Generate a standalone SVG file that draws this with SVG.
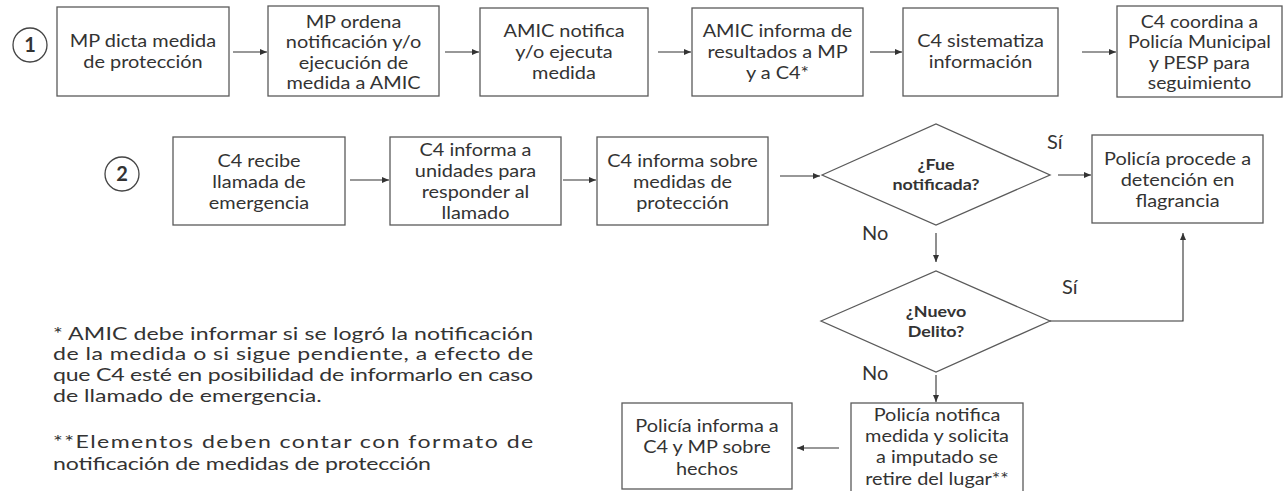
<svg xmlns="http://www.w3.org/2000/svg" width="1284" height="491" viewBox="0 0 1284 491">
<defs>
<marker id="ah" markerUnits="userSpaceOnUse" markerWidth="8" markerHeight="7" refX="7" refY="3" orient="auto">
<path d="M0,0 L7,3 L0,6 z" fill="#333"/>
</marker>
<style>
.box{fill:#fff;stroke:#5a5a5a;stroke-width:1.3}
.dia{fill:#fff;stroke:#5a5a5a;stroke-width:1.3}
.t{font-family:Lato,"Liberation Sans",sans-serif;font-size:17px;fill:#333;text-anchor:middle}
.d{font-family:Lato,"Liberation Sans",sans-serif;font-size:16px;font-weight:bold;fill:#333;text-anchor:middle}
.n{font-family:Lato,"Liberation Sans",sans-serif;font-size:20px;font-weight:bold;fill:#333;text-anchor:middle}
.lbl{font-family:Lato,"Liberation Sans",sans-serif;font-size:20px;fill:#333}
.fn{font-family:Lato,"Liberation Sans",sans-serif;font-size:16.5px;fill:#333}
.ca{fill:none;stroke:#333;stroke-width:1.1;marker-end:url(#ah)}
.circ{fill:#fff;stroke:#444;stroke-width:1.3}
</style>
</defs>
<rect width="1284" height="491" fill="#fff"/>

<g id="step1"><circle class="circ" cx="30" cy="45" r="17"/><text class="n" x="30" y="52">1</text></g>
<g id="step2"><circle class="circ" cx="122" cy="174" r="17"/><text class="n" x="122" y="181">2</text></g>

<g id="b1"><rect class="box" x="57" y="7" width="172" height="89"/>
<g transform="translate(143 0) scale(1.17 1)"><text class="t"><tspan x="0" y="47">MP dicta medida</tspan><tspan x="0" y="68">de protección</tspan></text></g></g>
<g id="b2"><rect class="box" x="268" y="6" width="171" height="90"/>
<g transform="translate(353.5 0) scale(1.17 1)"><text class="t"><tspan x="0" y="28">MP ordena</tspan><tspan x="0" y="48.5">notificación y/o</tspan><tspan x="0" y="69">ejecución de</tspan><tspan x="0" y="89.5">medida a AMIC</tspan></text></g></g>
<g id="b3"><rect class="box" x="480" y="8" width="168" height="88"/>
<g transform="translate(564 0) scale(1.17 1)"><text class="t"><tspan x="0" y="37">AMIC notifica</tspan><tspan x="0" y="58">y/o ejecuta</tspan><tspan x="0" y="79">medida</tspan></text></g></g>
<g id="b4"><rect class="box" x="692" y="8" width="171" height="88"/>
<g transform="translate(777.5 0) scale(1.17 1)"><text class="t"><tspan x="0" y="37">AMIC informa de</tspan><tspan x="0" y="58">resultados a MP</tspan><tspan x="0" y="79">y a C4*</tspan></text></g></g>
<g id="b5"><rect class="box" x="903" y="8" width="155" height="88"/>
<g transform="translate(980.5 0) scale(1.17 1)"><text class="t"><tspan x="0" y="47">C4 sistematiza</tspan><tspan x="0" y="68">información</tspan></text></g></g>
<g id="b6"><rect class="box" x="1117" y="6" width="165" height="91"/>
<g transform="translate(1199.5 0) scale(1.14 1)"><text class="t"><tspan x="0" y="28">C4 coordina a</tspan><tspan x="0" y="48.5">Policía Municipal</tspan><tspan x="0" y="69">y PESP para</tspan><tspan x="0" y="89.5">seguimiento</tspan></text></g></g>

<g id="b7"><rect class="box" x="173" y="137" width="172" height="88"/>
<g transform="translate(259 0) scale(1.17 1)"><text class="t"><tspan x="0" y="167">C4 recibe</tspan><tspan x="0" y="188">llamada de</tspan><tspan x="0" y="209">emergencia</tspan></text></g></g>
<g id="b8"><rect class="box" x="390" y="137" width="171" height="88"/>
<g transform="translate(475.5 0) scale(1.17 1)"><text class="t"><tspan x="0" y="156">C4 informa a</tspan><tspan x="0" y="177">unidades para</tspan><tspan x="0" y="198">responder al</tspan><tspan x="0" y="219">llamado</tspan></text></g></g>
<g id="b9"><rect class="box" x="597" y="137" width="171" height="88"/>
<g transform="translate(682.5 0) scale(1.17 1)"><text class="t"><tspan x="0" y="167">C4 informa sobre</tspan><tspan x="0" y="188">medidas de</tspan><tspan x="0" y="209">protección</tspan></text></g></g>
<g id="d1"><polygon class="dia" points="822,175 936,124 1050,175 936,225"/>
<g transform="translate(936 0) scale(1.12 1)"><text class="d"><tspan x="0" y="170">¿Fue</tspan><tspan x="0" y="190">notificada?</tspan></text></g></g>
<g id="b10"><rect class="box" x="1092" y="135" width="171" height="88"/>
<g transform="translate(1177.5 0) scale(1.17 1)"><text class="t"><tspan x="0" y="165">Policía procede a</tspan><tspan x="0" y="186">detención en</tspan><tspan x="0" y="207">flagrancia</tspan></text></g></g>
<g id="d2"><polygon class="dia" points="821,321 936,271 1050,321 936,372"/>
<g transform="translate(936 0) scale(1.12 1)"><text class="d"><tspan x="0" y="317">¿Nuevo</tspan><tspan x="0" y="337">Delito?</tspan></text></g></g>
<g id="b11"><rect class="box" x="851" y="403" width="172" height="92"/>
<g transform="translate(937 0) scale(1.17 1)"><text class="t"><tspan x="0" y="421">Policía notifica</tspan><tspan x="0" y="442">medida y solicita</tspan><tspan x="0" y="463">a imputado se</tspan><tspan x="0" y="485">retire del lugar**</tspan></text></g></g>
<g id="b12"><rect class="box" x="622" y="403" width="170" height="86"/>
<g transform="translate(707 0) scale(1.17 1)"><text class="t"><tspan x="0" y="432">Policía informa a</tspan><tspan x="0" y="453">C4 y MP sobre</tspan><tspan x="0" y="475">hechos</tspan></text></g></g>

<g id="connectors">
<line class="ca" x1="233" y1="52" x2="267" y2="52"/>
<line class="ca" x1="445" y1="52" x2="479" y2="52"/>
<line class="ca" x1="658" y1="52" x2="691" y2="52"/>
<line class="ca" x1="870" y1="52" x2="902" y2="52"/>
<line class="ca" x1="1082" y1="52" x2="1116" y2="52"/>
<line class="ca" x1="350" y1="180" x2="389" y2="180"/>
<line class="ca" x1="563" y1="180" x2="596" y2="180"/>
<line class="ca" x1="780" y1="176" x2="820" y2="176"/>
<line class="ca" x1="1058" y1="175" x2="1091" y2="175"/>
<line class="ca" x1="936" y1="233" x2="936" y2="262"/>
<polyline class="ca" points="1050,321 1183,321 1183,233"/>
<line class="ca" x1="936" y1="375" x2="936" y2="402"/>
<line class="ca" x1="839" y1="448" x2="797" y2="448"/>
<text class="lbl" x="1047" y="149">Sí</text>
<text class="lbl" x="862" y="240">No</text>
<text class="lbl" x="1062" y="294">Sí</text>
<text class="lbl" x="862" y="380">No</text>
</g>

<g id="notes" transform="translate(53 0) scale(1.4 1)">
<text class="fn"><tspan x="0" y="340" textLength="343" lengthAdjust="spacing">* AMIC debe informar si se logró la notificación</tspan><tspan x="0" y="360" textLength="343" lengthAdjust="spacing">de la medida o si sigue pendiente, a efecto de</tspan><tspan x="0" y="381" textLength="343" lengthAdjust="spacing">que C4 esté en posibilidad de informarlo en caso</tspan><tspan x="0" y="402" textLength="192" lengthAdjust="spacing">de llamado de emergencia.</tspan></text>
<text class="fn"><tspan x="0" y="448" textLength="343" lengthAdjust="spacing">**Elementos deben contar con formato de</tspan><tspan x="0" y="470" textLength="270" lengthAdjust="spacing">notificación de medidas de protección</tspan></text>
</g>
</svg>
